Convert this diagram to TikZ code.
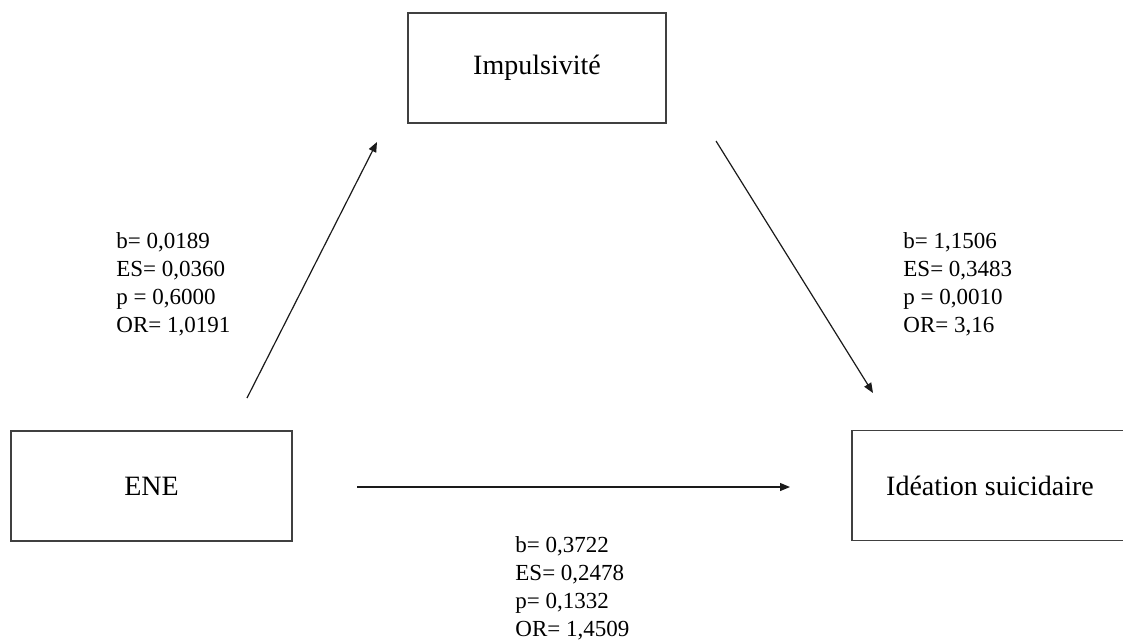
\documentclass[tikz,border=0pt]{standalone}
\usepackage{fontspec}
\setmainfont{Liberation Serif}
\usetikzlibrary{arrows.meta}
\definecolor{BoxGray}{HTML}{404040}
\definecolor{LineGray}{HTML}{1A1A1A}

\begin{document}
\begin{tikzpicture}[x=0.5pt, y=-0.5pt,
    box/.style={draw=BoxGray, line width=0.8pt, minimum height=55pt,
        font=\fontsize{14}{16}\selectfont},
    coef/.style={anchor=north west, inner sep=0pt, align=left,
        font=\fontsize{11.5}{14}\selectfont},
    link/.style={LineGray, line width=0.6pt, -{Triangle[length=5pt, width=4pt]}}]
\useasboundingbox (0,0) rectangle (1123,639);

% the three variables
\node[box, minimum width=129pt] (impuls) at (537,68) {Impulsivité};
\node[box, minimum width=140.5pt] (ene) at (151.5,486) {ENE};
\node[box, minimum width=138pt] (ideation) at (990,485.5) {Idéation suicidaire};

% free ends of the paths
\coordinate (ene-up) at (247,398);
\coordinate (impuls-in) at (377,142);
\coordinate (impuls-out) at (716,141);
\coordinate (ideation-in) at (873,393);
\coordinate (ene-right) at (357,487);
\coordinate (ideation-left) at (790,487);

\draw[link] (ene-up) -- (impuls-in);
\draw[link] (impuls-out) -- (ideation-in);
\draw[link] (ene-right) -- (ideation-left);

% coefficients
\node[coef] (coef-a) at (116,232) {b= 0,0189\\ES= 0,0360\\p = 0,6000\\OR= 1,0191};
\node[coef] (coef-b) at (903,232) {b= 1,1506\\ES= 0,3483\\p = 0,0010\\OR= 3,16};
\node[coef] (coef-c) at (515,536) {b= 0,3722\\ES= 0,2478\\p= 0,1332\\OR= 1,4509};

\end{tikzpicture}
\end{document}
